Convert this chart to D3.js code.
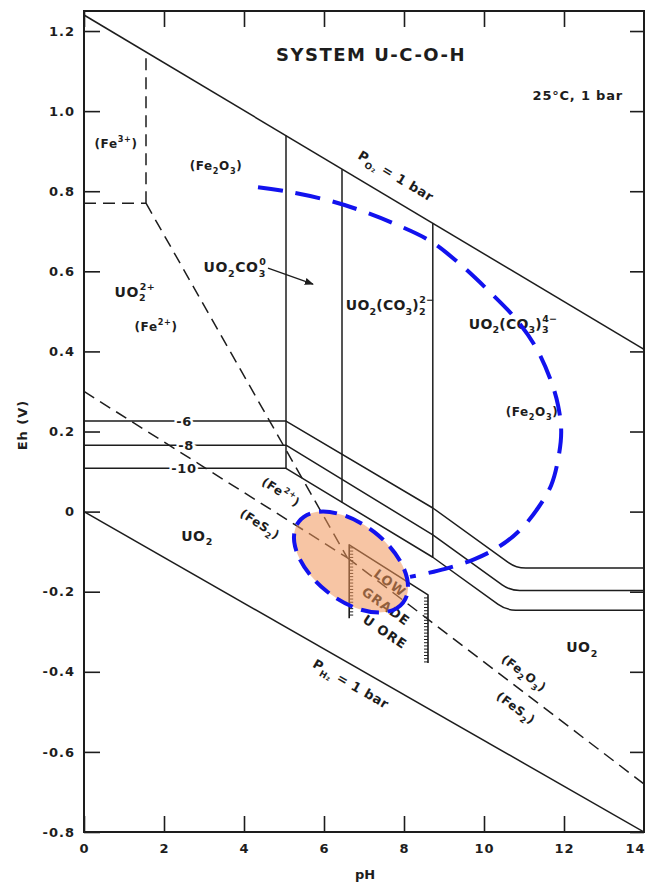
<!DOCTYPE html>
<html><head><meta charset="utf-8">
<script src="https://cdn.jsdelivr.net/npm/d3@7"></script>
<style>body{margin:0;background:#fff}svg{display:block}</style>
</head><body>
<svg id="c" width="645" height="883"></svg>
<script>
// ---------- data (pH, Eh in volts) ----------
const pHTicks = [0, 2, 4, 6, 8, 10, 12, 14];
const pHTickLabels = ["0", "2", "4", "6", "8", "10", "12", "14"];
const ehTicks = [-0.8, -0.6, -0.4, -0.2, 0, 0.2, 0.4, 0.6, 0.8, 1.0, 1.2];
const ehTickLabels = ["-0.8", "-0.6", "-0.4", "-0.2", "0", "0.2", "0.4", "0.6", "0.8", "1.0", "1.2"];

const pO2Line = [[0, 1.24], [14, 0.405]];
const pH2Line = [[0, 0], [14, -0.8]];

const fe3Vertical = [[1.55, 0.77], [1.55, 1.148]];
const fe3Horizontal = [[0, 0.77], [1.55, 0.77]];
const fe2Fe2O3 = [[1.55, 0.77], [6.58, -0.115]];
const fe2FeS2 = [[0, 0.30], [6.58, -0.115]];
const fe2O3FeS2 = [[6.58, -0.115], [14, -0.68]];

const uVertical1 = [[5.05, 0.939], [5.05, 0.108]];
const uVertical2 = [[6.45, 0.855], [6.45, 0.023]];
const uVertical3 = [[8.72, 0.720], [8.72, -0.114]];

const logU6 = [[0, 0.226], [5.05, 0.226], [8.72, 0.009], [10.8, -0.141], [14, -0.141]];
const logU8 = [[0, 0.166], [5.05, 0.166], [8.72, -0.058], [10.65, -0.197], [14, -0.197]];
const logU10 = [[0, 0.108], [5.05, 0.108], [8.72, -0.114], [10.55, -0.246], [14, -0.246]];

const oreOutline = [[6.63, -0.266], [6.63, -0.083], [8.6, -0.208], [8.6, -0.378]];

const highlightArc = [
  [4.35, 0.810], [5.15, 0.798], [6.15, 0.776], [7.03, 0.748], [7.78, 0.718], [8.65, 0.676],
  [9.4, 0.618], [10.15, 0.548], [10.78, 0.483], [11.28, 0.413], [11.65, 0.333], [11.85, 0.266],
  [11.93, 0.199], [11.85, 0.129], [11.68, 0.066], [11.35, 0.009], [10.9, -0.046], [10.4, -0.086],
  [9.78, -0.118], [9.03, -0.143], [8.15, -0.163]
];
const oreEllipseCenter = [6.675, -0.126];

// ---------- layout ----------
const svg = d3.select("#c");
const x = d3.scaleLinear().domain([0, 14]).range([84, 644]);
const y = d3.scaleLinear().domain([-0.8, 1.25]).range([832, 11]);
const FONT = "'DejaVu Sans', 'Liberation Sans', sans-serif";
const INK = "#1d1d1d";
const line = d3.line().x(d => x(d[0])).y(d => y(d[1]));

svg.append("clipPath").attr("id", "plot").append("rect")
  .attr("x", x(0)).attr("y", y(1.25)).attr("width", x(14) - x(0)).attr("height", y(-0.8) - y(1.25));

// axes
function styleAxis(g) {
  g.select(".domain").remove();
  g.selectAll(".tick line").attr("stroke", INK).attr("stroke-width", 1.6);
  g.selectAll(".tick text").attr("font-family", FONT).attr("font-weight", "bold")
    .attr("font-size", 13).attr("fill", INK).attr("letter-spacing", "1px");
}
svg.append("g").attr("transform", `translate(${x(0)},0)`)
  .call(d3.axisLeft(y).tickValues(ehTicks).tickSize(-16).tickPadding(9)
    .tickFormat((d, i) => ehTickLabels[i])).call(styleAxis);
svg.append("g").attr("transform", `translate(${x(14)},0)`)
  .call(d3.axisRight(y).tickValues(ehTicks).tickSize(-14).tickFormat("")).call(styleAxis);
const bottomAxis = svg.append("g").attr("transform", `translate(0,${y(-0.8)})`)
  .call(d3.axisBottom(x).tickValues(pHTicks).tickSize(-16).tickPadding(12)
    .tickFormat((d, i) => pHTickLabels[i])).call(styleAxis);
// keep the last label inside the page
bottomAxis.selectAll(".tick text").filter(d => d === 14).attr("text-anchor", "end").attr("dx", 1);
svg.append("g").attr("transform", `translate(0,${y(1.25)})`)
  .call(d3.axisTop(x).tickValues(pHTicks).tickSize(-16).tickFormat("")).call(styleAxis);

// frame
svg.append("rect").attr("x", x(0)).attr("y", y(1.25)).attr("width", x(14) - x(0))
  .attr("height", y(-0.8) - y(1.25)).attr("fill", "none").attr("stroke", INK).attr("stroke-width", 2);

const g = svg.append("g").attr("clip-path", "url(#plot)");
function solid(pts, w) {
  g.append("path").attr("d", line(pts)).attr("fill", "none").attr("stroke", INK)
    .attr("stroke-width", w || 1.5).attr("stroke-linejoin", "round");
}
function dashed(pts) {
  g.append("path").attr("d", line(pts)).attr("fill", "none").attr("stroke", INK)
    .attr("stroke-width", 1.5).attr("stroke-dasharray", "12,7");
}
function rounded(pts, radius) {
  const P = pts.map(d => [x(d[0]), y(d[1])]);
  const p = d3.path();
  p.moveTo(P[0][0], P[0][1]);
  for (let i = 1; i < P.length - 1; i++) {
    if (i === P.length - 2) p.arcTo(P[i][0], P[i][1], P[i + 1][0], P[i + 1][1], radius);
    else p.lineTo(P[i][0], P[i][1]);
  }
  p.lineTo(P[P.length - 1][0], P[P.length - 1][1]);
  g.append("path").attr("d", p.toString()).attr("fill", "none").attr("stroke", INK)
    .attr("stroke-width", 1.5).attr("stroke-linejoin", "round");
}

solid(pO2Line); solid(pH2Line);
solid(uVertical1); solid(uVertical2); solid(uVertical3);
rounded(logU6, 30); rounded(logU8, 30); rounded(logU10, 30);
dashed(fe3Vertical); dashed(fe3Horizontal); dashed(fe2Fe2O3); dashed(fe2FeS2); dashed(fe2O3FeS2);

// ore outline with hatching
solid(oreOutline, 1.6);
function hatch(pHv, ehTop, ehBot, dir) {
  const px = x(pHv);
  d3.range(y(ehTop) + 3, y(ehBot), 3.2).forEach(py => {
    g.append("line").attr("x1", px).attr("x2", px + dir * 4).attr("y1", py).attr("y2", py)
      .attr("stroke", INK).attr("stroke-width", 1);
  });
}
hatch(oreOutline[0][0], oreOutline[1][1], oreOutline[0][1], 1);
hatch(oreOutline[3][0], oreOutline[2][1], oreOutline[3][1], -1);

// ---------- rich text ----------
function rich(parent, str, size) {
  const t = parent.append("text").attr("font-family", FONT).attr("font-weight", "bold")
    .attr("font-size", size).attr("fill", INK);
  const toks = str.match(/_\{[^}]*\}|\^\{[^}]*\}|~\{[^}]*\}|[^_^~]+/g);
  let shift = 0, lastSub = null;
  const subOff = size * 0.32, supOff = -size * 0.5, small = size * 0.68;
  toks.forEach(tok => {
    let kind = "n", s = tok;
    if (/^[_^~]\{/.test(tok)) { kind = tok[0]; s = tok.slice(2, -1); }
    const ts = t.append("tspan").text(s);
    if (kind === "n") { ts.attr("dy", -shift); shift = 0; }
    else if (kind === "_") { ts.attr("font-size", small).attr("dy", subOff - shift); shift = subOff; lastSub = ts; }
    else {
      ts.attr("font-size", small).attr("dy", supOff - shift); shift = supOff;
      if (kind === "~" && lastSub) ts.attr("dx", -lastSub.node().getComputedTextLength());
    }
  });
  return t;
}
function label(str, pHv, eh, opts) {
  opts = opts || {};
  const size = opts.size || 13;
  const gg = svg.append("g").attr("transform",
    `translate(${x(pHv)},${y(eh)}) rotate(${opts.angle || 0})`);
  const t = rich(gg, str, size).attr("text-anchor", opts.anchor || "middle")
    .attr("y", opts.center ? size * 0.36 : 0).attr("letter-spacing", opts.ls || "0.6px");
  if (opts.color) t.attr("fill", opts.color);
  if (opts.halo) t.attr("stroke", "#fff").attr("stroke-width", 5).attr("paint-order", "stroke");
  return t;
}

// region labels
label("(Fe^{3+})", 0.8, 0.908, {size: 12});
label("(Fe_{2}O_{3})", 3.3, 0.853, {size: 12});
label("UO_{2}~{2+}", 1.275, 0.536, {size: 14});
label("(Fe^{2+})", 1.8, 0.450, {size: 12});
label("UO_{2}CO_{3}~{0}", 3.775, 0.598, {size: 14});
label("UO_{2}(CO_{3})_{2}~{2−}", 7.65, 0.503, {size: 14, ls: "0.2px"});
label("UO_{2}(CO_{3})_{3}~{4−}", 10.725, 0.456, {size: 14, ls: "0.2px"});
label("(Fe_{2}O_{3})", 11.2, 0.239, {size: 12});
label("-6", 2.5, 0.226, {size: 13, center: true, halo: true});
label("-8", 2.55, 0.166, {size: 13, center: true, halo: true});
label("-10", 2.5, 0.108, {size: 13, center: true, halo: true});
label("(Fe^{2+})", 4.925, 0.049, {size: 12, angle: 33, center: true});
label("(FeS_{2})", 4.4, -0.031, {size: 12, angle: 33, center: true});
label("UO_{2}", 2.825, -0.073, {size: 14});
label("UO_{2}", 12.45, -0.351, {size: 14});
label("(Fe_{2}O_{3})", 11.0, -0.403, {size: 12, angle: 37, center: true});
label("(FeS_{2})", 10.8, -0.49, {size: 12, angle: 37, center: true});
label("P_{O₂} = 1 bar", 7.8, 0.838, {size: 13, angle: 31, center: true});
label("P_{H₂} = 1 bar", 6.675, -0.43, {size: 13, angle: 30, center: true});
label("LOW", 7.65, -0.178, {size: 13, angle: 37, center: true, ls: "1px"});
label("GRADE", 7.55, -0.236, {size: 13, angle: 36, center: true, ls: "1px"});
label("U ORE", 7.525, -0.30, {size: 13, angle: 34, center: true, ls: "1px"});

// arrow for UO2CO3 label
svg.append("defs").append("marker").attr("id", "ah").attr("viewBox", "0 0 10 10")
  .attr("refX", 9).attr("refY", 5).attr("markerWidth", 7).attr("markerHeight", 7)
  .attr("orient", "auto").append("path").attr("d", "M0,1 L10,5 L0,9 Z").attr("fill", INK);
svg.append("path").attr("d", line([[4.6, 0.608], [5.725, 0.568]])).attr("stroke", INK)
  .attr("stroke-width", 1.3).attr("fill", "none").attr("marker-end", "url(#ah)");

// ---------- highlight overlays ----------
const ov = svg.append("g").attr("clip-path", "url(#plot)");
ov.append("ellipse").attr("cx", 0).attr("cy", 0).attr("rx", 66).attr("ry", 38)
  .attr("transform", `translate(${x(oreEllipseCenter[0])},${y(oreEllipseCenter[1])}) rotate(38)`)
  .attr("fill", "rgb(240,150,90)").attr("fill-opacity", 0.55)
  .attr("stroke", "#1212ee").attr("stroke-width", 4).attr("stroke-dasharray", "18,9");
ov.append("path").attr("d", d3.line().x(d => x(d[0])).y(d => y(d[1])).curve(d3.curveCatmullRom)(highlightArc))
  .attr("fill", "none").attr("stroke", "#1212ee").attr("stroke-width", 4)
  .attr("stroke-dasharray", "25,13");

// ---------- titles ----------
svg.append("text").attr("x", 371).attr("y", 61).attr("text-anchor", "middle")
  .attr("font-family", FONT).attr("font-weight", "bold").attr("font-size", 18)
  .attr("letter-spacing", "1.5px").attr("fill", INK).text("SYSTEM U-C-O-H");
svg.append("text").attr("x", 623).attr("y", 100).attr("text-anchor", "end")
  .attr("font-family", FONT).attr("font-weight", "bold").attr("font-size", 13)
  .attr("letter-spacing", "0.8px").attr("fill", INK).text("25°C, 1 bar");
svg.append("text").attr("transform", "translate(27,425) rotate(-90)").attr("text-anchor", "middle")
  .attr("font-family", FONT).attr("font-weight", "bold").attr("font-size", 13)
  .attr("letter-spacing", "1px").attr("fill", INK).text("Eh (V)");
svg.append("text").attr("x", 365).attr("y", 879).attr("text-anchor", "middle")
  .attr("font-family", FONT).attr("font-weight", "bold").attr("font-size", 13)
  .attr("fill", INK).text("pH");
</script>
</body></html>
